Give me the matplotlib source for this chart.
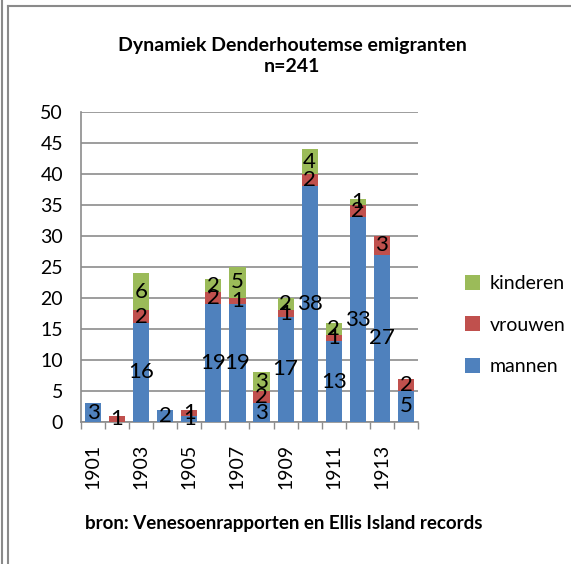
import matplotlib

matplotlib.use("Agg")
from matplotlib import pyplot as plt
from matplotlib.lines import Line2D
import numpy as np

years = [1901, 1902, 1903, 1904, 1905, 1906, 1907, 1908, 1909, 1910, 1911, 1912, 1913, 1914]
mannen = [3, 0, 16, 2, 1, 19, 19, 3, 17, 38, 13, 33, 27, 5]
vrouwen = [0, 1, 2, 0, 1, 2, 1, 2, 1, 2, 1, 2, 3, 2]
kinderen = [0, 0, 6, 0, 0, 2, 5, 3, 2, 4, 2, 1, 0, 0]
y_ticks = [0, 5, 10, 15, 20, 25, 30, 35, 40, 45, 50]

series = [
    ("mannen", mannen, "#4F81BD"),
    ("vrouwen", vrouwen, "#C0504D"),
    ("kinderen", kinderen, "#9BBB59"),
]

plt.rcParams["font.family"] = ["Lato", "DejaVu Sans"]

fig = plt.figure(figsize=(5.71, 5.64), dpi=100)
fig.patch.set_facecolor("white")
ax = fig.add_axes([81 / 571, 1 - 422 / 564, 337 / 571, 310 / 564])

x = np.arange(len(years))
bottom = np.zeros(len(years))
handles = []
for name, values, color in series:
    vals = np.array(values, dtype=float)
    bars = ax.bar(x, vals, width=0.67, bottom=bottom, color=color, label=name, zorder=3)
    handles.append(bars)
    for xi, b, v in zip(x, bottom, vals):
        if v > 0:
            ax.text(xi, b + v / 2, f"{int(v)}", ha="center", va="center",
                    fontsize=16, color="black", zorder=4)
    bottom += vals

ax.set_xlim(-0.5, len(years) - 0.5)
ax.set_ylim(0, 50)
ax.set_yticks(y_ticks)
ax.tick_params(axis="y", length=0, pad=13, labelsize=14)
ax.yaxis.grid(True, color="#8c8c8c", linewidth=1.2, zorder=0)

ax.set_xticks(x[::2])
ax.set_xticklabels([str(y) for y in years[::2]], rotation=90)
ax.set_xticks(np.arange(-0.5, len(years), 1.0), minor=True)
ax.tick_params(axis="x", which="major", length=0, pad=16, labelsize=14)
ax.tick_params(axis="x", which="minor", length=5, width=1.0, color="#8c8c8c")

for side in ("top", "right"):
    ax.spines[side].set_visible(False)
for side in ("left", "bottom"):
    ax.spines[side].set_color("#8c8c8c")
    ax.spines[side].set_linewidth(1.2)

leg = fig.legend(
    handles[::-1],
    [s[0] for s in series][::-1],
    loc="center left",
    bbox_to_anchor=(447 / 571, 1 - 325 / 564),
    frameon=False,
    fontsize=14,
    handlelength=0.8,
    handleheight=0.8,
    handletextpad=0.5,
    labelspacing=1.25,
)

fig.text(292 / 571, 1 - 45 / 564, "Dynamiek Denderhoutemse emigranten", ha="center", va="center",
         fontsize=14, fontweight="bold")
fig.text(292 / 571, 1 - 67 / 564, "n=241", ha="center", va="center",
         fontsize=14, fontweight="bold")
fig.text(284 / 571, 1 - 523 / 564, "bron: Venesoenrapporten en Ellis Island records",
         ha="center", va="center", fontsize=13.5, fontweight="bold")

# outer frame lines
border = "#8a8a8a"
fig.add_artist(Line2D([1.5 / 571, 1.5 / 571], [0, 1], color=border, linewidth=1.5))
fig.add_artist(Line2D([8 / 571, 8 / 571], [0, 1 - 6 / 564], color=border, linewidth=1.5))
fig.add_artist(Line2D([8 / 571, 1], [1 - 6 / 564, 1 - 6 / 564], color=border, linewidth=1.5))

fig.savefig("out.png", dpi=100)
